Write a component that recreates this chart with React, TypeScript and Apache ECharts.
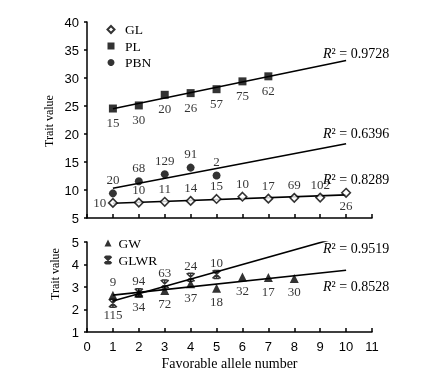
import React, { useEffect, useRef } from "react";
import * as echarts from "echarts";

// Favorable allele number (x) for each point
const alleleNumbers = [1, 2, 3, 4, 5, 6, 7, 8, 9, 10];

// Upper panel
const glValues = [7.7, 7.75, 7.9, 8.05, 8.4, 8.8, 8.45, 8.6, 8.65, 9.5];
const glCounts = ["10", "10", "11", "14", "15", "10", "17", "69", "102", "26"];
const plValues = [24.55, 25.1, 27.0, 27.3, 28.0, 29.4, 30.3];
const plCounts = ["15", "30", "20", "26", "57", "75", "62"];
const pbnValues = [9.4, 11.55, 12.8, 14.0, 12.6];
const pbnCounts = ["20", "68", "129", "91", "2"];

// Lower panel
const gwValues = [2.63, 2.72, 2.85, 3.15, 2.95, 3.45, 3.42, 3.38];
const gwCounts = ["9", "34", "72", "37", "18", "32", "17", "30"];
const glwrValues = [2.28, 2.75, 3.13, 3.43, 3.56];
const glwrCounts = ["115", "94", "63", "24", "10"];

// R² annotations
const r2Top = ["0.9728", "0.6396", "0.8289"]; // PL, PBN, GL
const r2Bottom = ["0.9519", "0.8528"]; // GLWR, GW

// Trendline span (x)
const trendRange = [1, 10];

const SERIF = "'Liberation Serif', 'Times New Roman', serif";
const SANS = "'Liberation Sans', Arial, sans-serif";

function linearTrend(values: number[]) {
  const xs = alleleNumbers.slice(0, values.length);
  const n = values.length;
  const mx = xs.reduce((a, b) => a + b, 0) / n;
  const my = values.reduce((a, b) => a + b, 0) / n;
  let sxy = 0;
  let sxx = 0;
  for (let i = 0; i < n; i++) {
    sxy += (xs[i] - mx) * (values[i] - my);
    sxx += (xs[i] - mx) * (xs[i] - mx);
  }
  const slope = sxy / sxx;
  const icpt = my - slope * mx;
  return trendRange.map((x) => [x, icpt + slope * x]);
}

function trendSeries(name: string, values: number[], axis: number) {
  return {
    name,
    type: "line",
    xAxisIndex: axis,
    yAxisIndex: axis,
    data: linearTrend(values),
    symbol: "none",
    showSymbol: false,
    silent: true,
    clip: true,
    lineStyle: { color: "#000", width: 1.6 },
    z: 2,
  };
}

function scatterSeries(
  name: string,
  values: number[],
  counts: string[],
  axis: number,
  symbol: string,
  symbolSize: number,
  itemStyle: any,
  posFor: (i: number) => string,
  distance: number
) {
  const labelStyle = (i: number) => ({
    show: true,
    position: posFor(i),
    distance,
    color: "#000000",
    fontFamily: SERIF,
    fontSize: 13,
    formatter: counts[i],
  });
  return {
    name,
    type: "scatter",
    xAxisIndex: axis,
    yAxisIndex: axis,
    symbol,
    symbolSize,
    itemStyle,
    data: values.map((v, i) => ({
      value: [alleleNumbers[i], v],
      label: labelStyle(i),
    })),
    label: { show: true, color: "#000000", fontFamily: SERIF, fontSize: 13 },
    z: 3,
  };
}

const starPath =
  "path://M0,0L10,10M10,0L0,10M5,0L5,10M1.5,0L8.5,0M1.5,10L8.5,10";

const axisLineStyle = { color: "#000", width: 1.5 };

function r2Text(value: string, y: number) {
  return {
    type: "text",
    x: 323,
    y,
    style: {
      text: "{i|R}{n|² = " + value + "}",
      textVerticalAlign: "middle",
      rich: {
        i: { fontFamily: SERIF, fontSize: 14, fontStyle: "italic", fill: "#000" },
        n: { fontFamily: SERIF, fontSize: 14, fill: "#000" },
      },
    },
  };
}

export default function App() {
  const ref = useRef<HTMLDivElement>(null);

  useEffect(() => {
    if (!ref.current) return;
    const chart = echarts.init(ref.current, null, { renderer: "svg" });

    const xAxisBase = {
      type: "value",
      min: 0,
      max: 11,
      interval: 1,
      axisLine: { lineStyle: axisLineStyle },
      axisTick: { inside: true, length: 4, lineStyle: axisLineStyle },
      splitLine: { show: false },
    };
    const yAxisBase = {
      type: "value",
      axisLine: { show: true, lineStyle: axisLineStyle },
      axisTick: { show: true, inside: false, length: 3, lineStyle: axisLineStyle },
      splitLine: { show: false },
      axisLabel: { fontFamily: SANS, fontSize: 13, color: "#000", margin: 8 },
    };

    const legendText = { fontFamily: SERIF, fontSize: 13.5, color: "#000" };

    const option: any = {
      animation: false,
      backgroundColor: "#fff",
      textStyle: { color: "#000" },
      grid: [
        { left: 87, top: 22, width: 285, height: 196 },
        { left: 87, top: 242, width: 285, height: 90 },
      ],
      xAxis: [
        { ...xAxisBase, gridIndex: 0, axisLabel: { show: false } },
        {
          ...xAxisBase,
          gridIndex: 1,
          axisLabel: { fontFamily: SANS, fontSize: 13, color: "#000", margin: 8 },
          name: "Favorable allele number",
          nameLocation: "middle",
          nameGap: 24,
          nameTextStyle: { fontFamily: SERIF, fontSize: 14, color: "#000" },
        },
      ],
      yAxis: [
        { ...yAxisBase, gridIndex: 0, min: 5, max: 40, interval: 5 },
        { ...yAxisBase, gridIndex: 1, min: 1, max: 5, interval: 1 },
      ],
      legend: [
        {
          data: ["GL", "PL", "PBN"],
          orient: "vertical",
          left: 106.5,
          top: 22.5,
          padding: 0,
          itemWidth: 7,
          itemHeight: 7,
          itemGap: 2.5,
          selectedMode: false,
          textStyle: { ...legendText, padding: [0, 0, 0, 5.5] },
        },
        {
          data: ["GW", "GLWR"],
          orient: "vertical",
          left: 103.5,
          top: 236,
          padding: 0,
          itemWidth: 7,
          itemHeight: 7,
          itemGap: 3,
          selectedMode: false,
          textStyle: { ...legendText, padding: [0, 0, 0, 2] },
        },
      ],
      graphic: [
        {
          type: "text",
          x: 49,
          y: 121,
          rotation: Math.PI / 2,
          style: {
            text: "Trait value",
            textAlign: "center",
            textVerticalAlign: "middle",
            fontFamily: SERIF,
            fontSize: 12,
            fill: "#000",
          },
        },
        {
          type: "text",
          x: 55,
          y: 274,
          rotation: Math.PI / 2,
          style: {
            text: "Trait value",
            textAlign: "center",
            textVerticalAlign: "middle",
            fontFamily: SERIF,
            fontSize: 12,
            fill: "#000",
          },
        },
        r2Text(r2Top[0], 53),
        r2Text(r2Top[1], 133.5),
        r2Text(r2Top[2], 179),
        r2Text(r2Bottom[0], 248.5),
        r2Text(r2Bottom[1], 286),
      ],
      series: [
        trendSeries("PL trend", plValues, 0),
        trendSeries("PBN trend", pbnValues, 0),
        trendSeries("GL trend", glValues, 0),
        trendSeries("GLWR trend", glwrValues, 1),
        trendSeries("GW trend", gwValues, 1),
        scatterSeries(
          "GL",
          glValues,
          glCounts,
          0,
          "diamond",
          8.5,
          { color: "#fff", borderColor: "#000", borderWidth: 1.6 },
          (i) => (i === 0 ? "left" : i === glValues.length - 1 ? "bottom" : "top"),
          1.5
        ),
        scatterSeries(
          "PL",
          plValues,
          plCounts,
          0,
          "rect",
          8,
          { color: "#000" },
          () => "bottom",
          3.5
        ),
        scatterSeries(
          "PBN",
          pbnValues,
          pbnCounts,
          0,
          "circle",
          8,
          { color: "#000" },
          () => "top",
          3.5
        ),
        scatterSeries(
          "GW",
          gwValues,
          gwCounts,
          1,
          "triangle",
          9,
          { color: "#000" },
          (i) => (i === 0 ? "top" : "bottom"),
          2.5
        ),
        scatterSeries(
          "GLWR",
          glwrValues,
          glwrCounts,
          1,
          starPath,
          8,
          { color: "rgba(0,0,0,0)", borderColor: "#000", borderWidth: 1.5 },
          (i) => (i === 0 ? "bottom" : "top"),
          0.5
        ),
      ],
    };

    chart.setOption(option);
    return () => {
      chart.dispose();
    };
  }, []);

  return (
    <div
      ref={ref}
      style={{
        position: "absolute",
        left: 0,
        top: 0,
        width: 442,
        height: 376,
        willChange: "transform",
      }}
    />
  );
}
